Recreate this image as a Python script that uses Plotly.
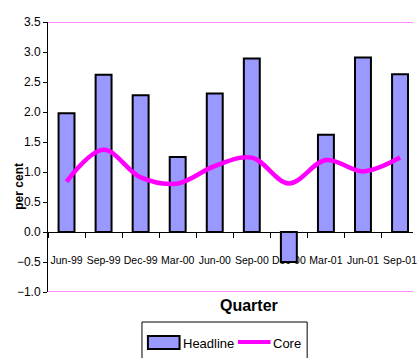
import plotly.graph_objects as go

# Quarterly inflation, per cent
quarters = ["Jun-99", "Sep-99", "Dec-99", "Mar-00", "Jun-00",
            "Sep-00", "Dec-00", "Mar-01", "Jun-01", "Sep-01"]
headline = [1.98, 2.62, 2.28, 1.25, 2.31, 2.89, -0.50, 1.62, 2.91, 2.63]
core = [0.84, 1.37, 0.91, 0.81, 1.10, 1.24, 0.81, 1.20, 1.01, 1.24]

y_ticks = [-1.0, -0.5, 0.0, 0.5, 1.0, 1.5, 2.0, 2.5, 3.0, 3.5]

FONT = "Liberation Sans, Arial, sans-serif"
MAGENTA = "#FF00FF"
BAR_FILL = "#9999FF"

fig = go.Figure()
fig.add_trace(go.Bar(
    x=quarters, y=headline, name="Headline", width=0.43, showlegend=False,
    marker=dict(color=BAR_FILL, line=dict(color="black", width=2)),
))
fig.add_trace(go.Scatter(
    x=quarters, y=core, name="Core", mode="lines", showlegend=False,
    line=dict(color=MAGENTA, width=4.5, shape="spline", smoothing=1.0),
))

ymin, ymax = y_ticks[0], y_ticks[-1]
zero_pos = (0 - ymin) / (ymax - ymin)

# plot area in pixels, used to place the hand-drawn legend box
L, R, T, B = 48, 417, 22, 292


def px(x):
    return (x - L) / (R - L)


def py(y):
    return (B - y) / (B - T)


shapes = [
    dict(type="line", xref="paper", x0=0, x1=1, yref="y", y0=ymax, y1=ymax,
         line=dict(color="#FF66FF", width=1.5)),
    dict(type="line", xref="paper", x0=0, x1=1, yref="y", y0=ymin, y1=ymin,
         line=dict(color="#FF66FF", width=1.5)),
    # legend frame
    dict(type="rect", xref="paper", yref="paper",
         x0=px(143), x1=px(310), y0=py(364), y1=py(322),
         line=dict(color="black", width=1), fillcolor="white"),
    # legend swatch: Headline
    dict(type="rect", xref="paper", yref="paper",
         x0=px(149), x1=px(181), y0=py(349), y1=py(336),
         line=dict(color="black", width=2), fillcolor=BAR_FILL),
    # legend swatch: Core
    dict(type="line", xref="paper", yref="paper",
         x0=px(240), x1=px(273), y0=py(342), y1=py(342),
         line=dict(color=MAGENTA, width=4)),
]

annotations = [
    dict(text="<b>per cent</b>", textangle=-90, xref="paper", x=px(19),
         xanchor="center", yref="y", y=0.76, yanchor="middle",
         showarrow=False, font=dict(size=12, family=FONT)),
    dict(text="<b>Quarter</b>", xref="paper", x=px(251), xanchor="center",
         yref="paper", y=py(305), yanchor="middle",
         showarrow=False, font=dict(size=16, family=FONT)),
    dict(text="Headline", xref="paper", x=px(182), xanchor="left",
         yref="paper", y=py(343), yanchor="middle",
         showarrow=False, font=dict(size=13, family=FONT)),
    dict(text="Core", xref="paper", x=px(273), xanchor="left",
         yref="paper", y=py(343), yanchor="middle",
         showarrow=False, font=dict(size=13, family=FONT)),
]

fig.update_layout(
    width=417, height=358,
    margin=dict(l=L, r=0, t=T, b=358 - B),
    paper_bgcolor="white", plot_bgcolor="white",
    font=dict(family=FONT, color="black", size=12),
    showlegend=False,
    xaxis=dict(
        type="category", range=[-0.5, 9.35],
        anchor="free", position=zero_pos,
        showline=True, linecolor="black", linewidth=1,
        ticks="outside", ticklen=5, tickcolor="black", tickson="boundaries",
        ticklabelstandoff=18, tickangle=0, tickfont=dict(size=10.5),
        showgrid=False, zeroline=False, layer="below traces",
    ),
    yaxis=dict(
        range=[ymin, ymax], tickvals=y_ticks, tickformat=".1f",
        showline=True, linecolor="black", linewidth=1,
        ticks="outside", ticklen=4, tickcolor="black",
        tickfont=dict(size=12),
        showgrid=False, zeroline=False,
    ),
    shapes=shapes,
    annotations=annotations,
)

fig.write_html("out.html")
